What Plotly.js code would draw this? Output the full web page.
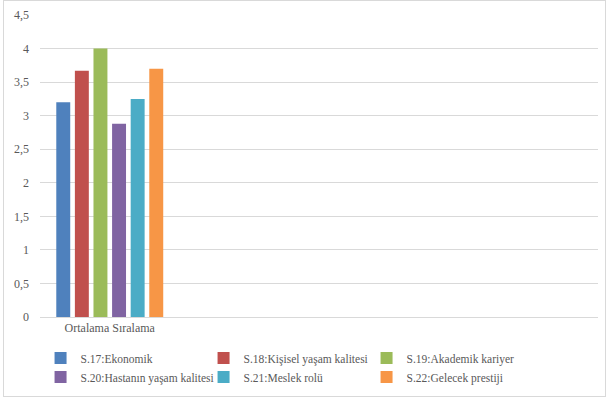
<!DOCTYPE html>
<html>
<head>
<meta charset="utf-8">
<script src="https://cdn.plot.ly/plotly-3.0.1.min.js"></script>
<style>
html,body{margin:0;padding:0;background:#fff;}
#wrap{position:absolute;left:3px;top:0px;width:603px;height:397px;border:1px solid #d9d9d9;box-sizing:border-box;}
#chart{position:absolute;left:0;top:0;width:609px;height:400px;}
</style>
</head>
<body>
<div id="wrap"></div>
<div id="chart"></div>
<script>
const categories = ["Ortalama Sıralama"];
const seriesNames = [
  "S.17:Ekonomik",
  "S.18:Kişisel yaşam kalitesi",
  "S.19:Akademik kariyer",
  "S.20:Hastanın yaşam kalitesi",
  "S.21:Meslek rolü",
  "S.22:Gelecek prestiji"
];
const seriesValues = [3.20, 3.67, 4.00, 2.88, 3.25, 3.70];
const seriesColors = ["#4F81BD", "#C0504D", "#9BBB59", "#8064A2", "#4BACC6", "#F79646"];
const yTicks = [0, 0.5, 1, 1.5, 2, 2.5, 3, 3.5, 4, 4.5];

const traces = seriesNames.map((name, i) => ({
  type: "bar",
  name: name,
  x: [0],
  y: [seriesValues[i]],
  marker: {color: seriesColors[i]},
  hoverinfo: "name+y"
}));

const fam = "'Liberation Serif', Tinos, 'Times New Roman', Times, 'DejaVu Serif', serif";
const font = {family: fam, size: 12, color: "#595959"};

const layout = {
  width: 609,
  height: 400,
  margin: {l: 40, r: 11, t: 15, b: 83, autoexpand: false},
  paper_bgcolor: "rgba(0,0,0,0)",
  plot_bgcolor: "rgba(0,0,0,0)",
  separators: ", ",
  barmode: "group",
  bargap: 0.2,
  bargroupgap: 0.25,
  font: font,
  showlegend: true,
  xaxis: {
    type: "linear",
    range: [-0.5, 3.5],
    tickvals: [0],
    ticktext: categories,
    showgrid: false,
    zeroline: false,
    showline: true,
    linecolor: "#d9d9d9",
    linewidth: 1,
    ticks: "",
    tickfont: {family: fam, size: 12, color: "#595959"},
    fixedrange: true
  },
  yaxis: {
    range: [0, 4.5],
    tickvals: yTicks,
    ticktext: yTicks.map(v => String(v).replace(".", ",")),
    showgrid: true,
    gridcolor: "#d9d9d9",
    gridwidth: 1,
    zeroline: false,
    showline: false,
    ticks: "",
    ticklabelstandoff: 10,
    tickfont: {family: fam, size: 12, color: "#595959"},
    fixedrange: true
  },
  legend: {
    orientation: "h",
    x: 0.001,
    xanchor: "left",
    y: -0.088,
    yanchor: "top",
    entrywidth: 118,
    entrywidthmode: "pixels",
    font: {family: fam, size: 11.5, color: "#595959"},
    bgcolor: "rgba(0,0,0,0)",
    traceorder: "normal"
  }
};

Plotly.newPlot("chart", traces, layout, {displayModeBar: false, staticPlot: true});
</script>
</body>
</html>
